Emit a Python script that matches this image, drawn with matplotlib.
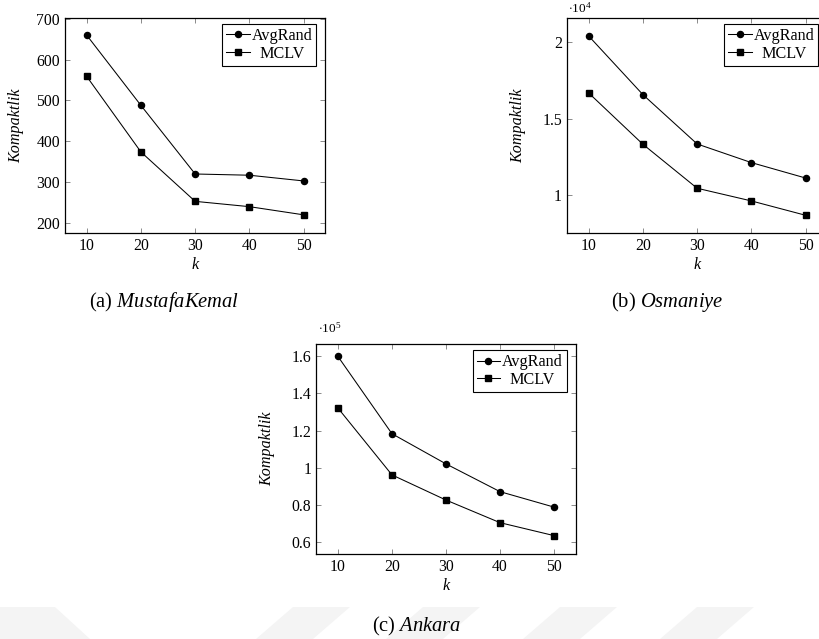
import matplotlib
matplotlib.use("Agg")
import matplotlib.pyplot as plt
from matplotlib.patches import Polygon
from matplotlib.ticker import FuncFormatter, FixedLocator

plt.rcParams['font.family'] = ['Liberation Serif', 'DejaVu Serif']
plt.rcParams['mathtext.fontset'] = 'custom'
plt.rcParams['mathtext.rm'] = 'Liberation Serif'
plt.rcParams['mathtext.it'] = 'Liberation Serif:italic'

# ---- data ----
k_values = [10, 20, 30, 40, 50]
series_names = ["AvgRand", "MCLV"]

mustafakemal_avgrand = [660, 488, 320, 317, 303]
mustafakemal_mclv = [559, 374, 253, 240, 220]

osmaniye_avgrand = [20410, 16570, 13340, 12120, 11110]
osmaniye_mclv = [16680, 13320, 10440, 9610, 8670]

ankara_avgrand = [159800, 118300, 102100, 87200, 78900]
ankara_mclv = [132100, 96200, 82700, 70550, 63600]

captions = ["MustafaKemal", "Osmaniye", "Ankara"]
caption_tags = ["(a)", "(b)", "(c)"]
ylabel_text = "Kompaktlik"
xlabel_text = "k"

W, H = 820, 639
fig = plt.figure(figsize=(W / 100, H / 100), dpi=100)

# faint watermark shapes
wm_color = '#f4f4f4'
def px_poly(pts):
    return [(x / W, 1 - y / H) for x, y in pts]
fig.patches.append(Polygon(px_poly([(0, 607), (55, 607), (90, 639), (0, 639)]),
                           closed=True, transform=fig.transFigure,
                           facecolor=wm_color, edgecolor='none', zorder=0))
for x0 in [293, 423, 560, 697]:
    fig.patches.append(Polygon(px_poly([(x0, 607), (x0 + 57, 607), (x0 + 20, 639), (x0 - 37, 639)]),
                               closed=True, transform=fig.transFigure,
                               facecolor=wm_color, edgecolor='none', zorder=0))


def make_axes(left, top, right, bottom):
    return fig.add_axes([left / W, 1 - bottom / H, (right - left) / W, (bottom - top) / H])


def style(ax, ylim, yticks, ax_h):
    ax.set_xlim(6, 54)
    ax.set_ylim(*ylim)
    ax.xaxis.set_major_locator(FixedLocator(k_values))
    ax.yaxis.set_major_locator(FixedLocator(yticks))
    ax.yaxis.set_major_formatter(FuncFormatter(lambda v, p: '%g' % round(v, 6)))
    ax.tick_params(which='both', direction='in', length=3.6, width=0.6,
                   color='#777777', labelsize=11.3, pad=3.6,
                   top=True, right=True)
    for s in ax.spines.values():
        s.set_linewidth(0.9)
        s.set_color('black')
    ax.set_ylabel(ylabel_text, fontsize=11.6, fontstyle='italic')
    ax.yaxis.set_label_coords(-0.158, 0.5)
    ax.set_xlabel(xlabel_text, fontsize=11.6, fontstyle='italic')
    ax.xaxis.set_label_coords(0.5, -24.0 / ax_h)
    ax.xaxis.label.set_va('top')


def plot_series(ax, avg, mclv, scale):
    ax.plot(k_values, [v / scale for v in avg], color='black', lw=0.75,
            marker='o', ms=4.4, label=series_names[0])
    ax.plot(k_values, [v / scale for v in mclv], color='black', lw=0.75,
            marker='s', ms=4.6, label=series_names[1])
    leg = ax.legend(loc='upper right', bbox_to_anchor=(1 - 9 / 260, 1 - 6 / 215),
                    borderaxespad=0, fontsize=11.6, fancybox=False, framealpha=1,
                    edgecolor='black', handlelength=1.45, handletextpad=0.12,
                    borderpad=0.25, labelspacing=0.12)
    leg.get_frame().set_linewidth(0.8)
    return leg


# (a) MustafaKemal
ax1 = make_axes(65, 18, 325.3, 233)
leg1 = plot_series(ax1, mustafakemal_avgrand, mustafakemal_mclv, 1)
style(ax1, (175.5, 702), [200, 300, 400, 500, 600, 700], 215)

# (b) Osmaniye
ax2 = make_axes(567, 18, 827.3, 233)
leg2 = plot_series(ax2, osmaniye_avgrand, osmaniye_mclv, 1e4)
style(ax2, (0.751, 2.159), [1, 1.5, 2], 215)
ax2.text(0.005, 1 + 5.3 / 215, r'$\cdot 10^{4}$', transform=ax2.transAxes,
         fontsize=9.5, ha='left', va='baseline')

# (c) Ankara
ax3 = make_axes(316.3, 344.3, 575.7, 553.7)
leg3 = plot_series(ax3, ankara_avgrand, ankara_mclv, 1e5)
style(ax3, (0.539, 1.663), [0.6, 0.8, 1.0, 1.2, 1.4, 1.6], 209.4)
ax3.text(0.006, 1 + 11.6 / 209.4, r'$\cdot 10^{5}$', transform=ax3.transAxes,
         fontsize=9.5, ha='left', va='baseline')

# captions
cap_pos = [(164, 302), (667, 302), (417, 626)]
for (cx, cy), tag, name in zip(cap_pos, caption_tags, captions):
    fig.text(cx / W, 1 - cy / H, tag + r' $\mathit{' + name + '}$', fontsize=14.8,
             ha='center', va='center')

# center the shorter legend entry like the original
fig.canvas.draw()
r = fig.canvas.get_renderer()
for leg in (leg1, leg2, leg3):
    t0, t1 = leg.get_texts()
    w0 = t0.get_window_extent(r).width
    w1 = t1.get_window_extent(r).width
    t1.set_x((w0 - w1) / 2)

fig.savefig("out.png", dpi=100)
